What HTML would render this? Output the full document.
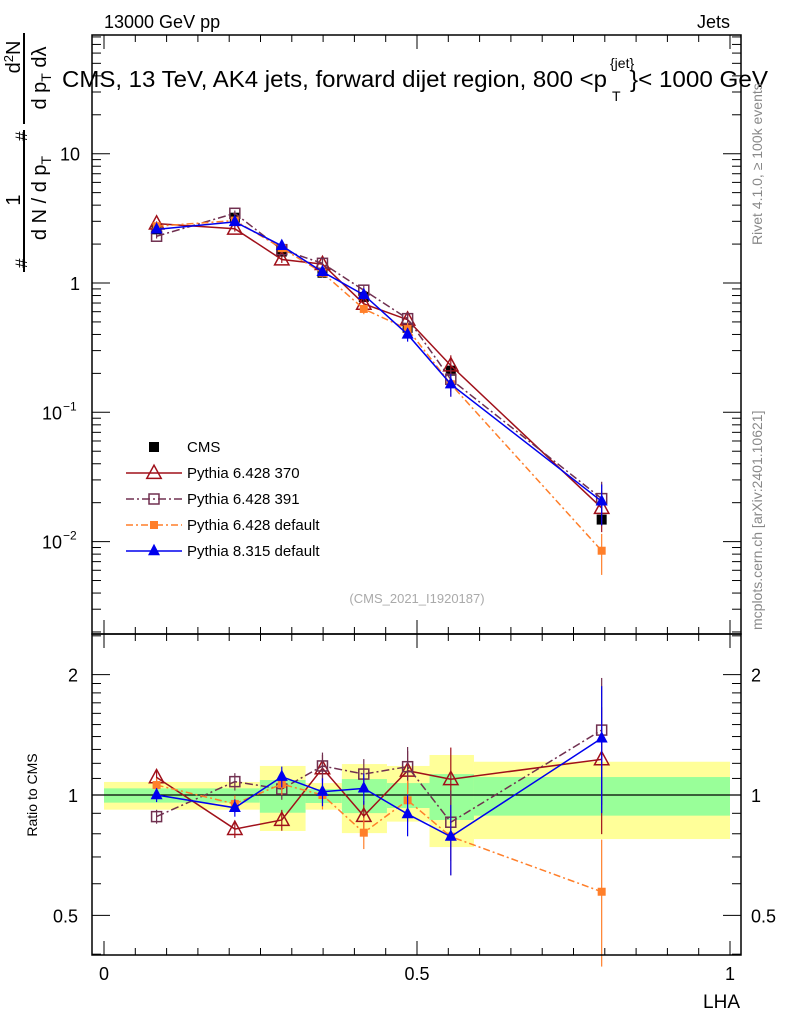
<!DOCTYPE html>
<html><head><meta charset="utf-8"><style>
body{margin:0;background:#fff;}
svg{display:block;font-family:"Liberation Sans",sans-serif;}
</style></head><body>
<svg id="c" width="786" height="1024" viewBox="0 0 786 1024" xmlns="http://www.w3.org/2000/svg">
<text x="104" y="28" font-size="18">13000 GeV pp</text>
<text x="730" y="28" font-size="18" text-anchor="end">Jets</text>
<g>
<text x="62" y="87" font-size="23.5" textLength="545" lengthAdjust="spacingAndGlyphs">CMS, 13 TeV, AK4 jets, forward dijet region, 800 &lt;p</text>
<text x="612" y="101" font-size="14">T</text>
<text x="610" y="68" font-size="14">{jet}</text>
<text x="630" y="87" font-size="23.5" textLength="138" lengthAdjust="spacingAndGlyphs">}&lt; 1000 GeV</text>
</g>
<g font-size="20">
<text transform="translate(20,200) rotate(-90)" text-anchor="middle">1</text>
<line x1="24" y1="130" x2="24" y2="272" stroke="#000" stroke-width="2"/>
<text transform="translate(46,198) rotate(-90)" text-anchor="middle">d N / d p<tspan font-size="14" dy="5">T</tspan></text>
<text transform="translate(27,268) rotate(-90)" font-size="17">#</text>
<text transform="translate(27,141) rotate(-90)" font-size="17">#</text>
<text transform="translate(20,57) rotate(-90)" text-anchor="middle">d<tspan font-size="13" dy="-7">2</tspan><tspan dy="7">N</tspan></text>
<line x1="24" y1="33" x2="24" y2="124" stroke="#000" stroke-width="2"/>
<text transform="translate(46,78) rotate(-90)" text-anchor="middle">d p<tspan font-size="14" dy="5">T</tspan><tspan dy="-5"> dλ</tspan></text>
</g>
<text transform="translate(762,245) rotate(-90)" font-size="14" fill="#888">Rivet 4.1.0, ≥ 100k events</text>
<text transform="translate(762,630) rotate(-90)" font-size="14" fill="#888">mcplots.cern.ch [arXiv:2401.10621]</text>
<text x="417" y="603" font-size="13" fill="#aaa" text-anchor="middle">(CMS_2021_I1920187)</text>
<text transform="translate(37,795) rotate(-90)" font-size="14" text-anchor="middle">Ratio to CMS</text>
<text x="740" y="1008" font-size="19" text-anchor="end">LHA</text>
<g id="bands"></g><g id="grid"></g><g id="series"></g><g id="axes"></g><g id="legend"></g>
</svg>
<script>
const xCenters=[0.084,0.209,0.284,0.349,0.415,0.485,0.554,0.795];
const binEdges=[0,0.249,0.322,0.38,0.452,0.52,0.591,1.0];
const cmsVals=[2.6,3.2,1.75,1.2,0.78,0.45,0.21,0.0148];
const p370=[2.88,2.63,1.52,1.40,0.69,0.52,0.23,0.0182];
const p391=[2.30,3.46,1.81,1.42,0.88,0.53,0.18,0.0215];
const pdef=[2.75,3.04,1.86,1.2,0.63,0.44,0.165,0.0085];
const p8=[2.6,2.97,1.94,1.22,0.81,0.40,0.165,0.0205];
const r370=[1.107,0.822,0.866,1.166,0.886,1.15,1.095,1.228];
const r391=[0.883,1.08,1.035,1.182,1.128,1.177,0.855,1.453];
const rdef=[1.059,0.95,1.065,1.0,0.805,0.97,0.787,0.573];
const r8=[1.0,0.929,1.111,1.019,1.039,0.896,0.787,1.386];
const relErr=[0.04,0.05,0.06,0.08,0.09,0.12,0.2,0.35];
const yelLo=[0.919,0.813,0.919,0.803,0.858,0.741,0.776];
const yelHi=[1.078,1.182,1.071,1.195,1.182,1.259,1.211];
const grnLo=[0.957,0.903,0.955,0.901,0.928,0.866,0.888];
const grnHi=[1.039,1.09,1.035,1.096,1.071,1.128,1.109];
const NS="http://www.w3.org/2000/svg";
const X=v=>104+v*626;
const Ym=v=>283-129.3*Math.log10(v);
const Yr=v=>795-400*Math.log10(v);
function mk(tag,at,par){const e=document.createElementNS(NS,tag);for(const k in at)e.setAttribute(k,at[k]);document.getElementById(par).appendChild(e);return e;}
for(let i=0;i<yelLo.length;i++){
 let r=mk('rect',{x:X(binEdges[i]),y:Yr(yelHi[i]),width:X(binEdges[i+1])-X(binEdges[i]),height:Yr(yelLo[i])-Yr(yelHi[i]),fill:'#ffff99'},'bands');
 
 
 let g=mk('rect',{x:X(binEdges[i]),y:Yr(grnHi[i]),width:X(binEdges[i+1])-X(binEdges[i]),height:Yr(grnLo[i])-Yr(grnHi[i]),fill:'#99ff99'},'bands');
 
 
}
let ul=mk('line',{x1:92,x2:741,y1:Yr(1),y2:Yr(1),stroke:'#000','stroke-width':1.2},'grid');


const L=92,R=741,T=35,M=634,B=955;
let f1=mk('rect',{x:L,y:T,width:R-L,height:M-T,fill:'none',stroke:'#000','stroke-width':1.5},'axes');


let f2=mk('rect',{x:L,y:M,width:R-L,height:B-M,fill:'none',stroke:'#000','stroke-width':1.5},'axes');


function tk(x1,y1,x2,y2){let t=mk('line',{x1,y1,x2,y2,stroke:'#000','stroke-width':1},'axes');}
for(let k=0;k<=20;k++){const v=k*0.05;const x=X(v);const len=(k%10==0)?14:7;
 tk(x,T,x,T+len);tk(x,M,x,M-len);tk(x,M,x,M+len);tk(x,B,x,B-len);}
[["0",0],["0.5",0.5],["1",1]].forEach(([s,v])=>{let t=mk('text',{x:X(v),y:980,'font-size':18,'text-anchor':'middle'},'axes');t.textContent=s;});
for(let d=-3;d<=1;d++){for(let m=1;m<10;m++){const v=m*Math.pow(10,d);const y=Ym(v);if(y<T||y>M)continue;const len=m==1?18:9;tk(L,y,L+len,y);tk(R,y,R-len,y);}}
[["10",10],["1",1]].forEach(([s,v])=>{let t=mk('text',{x:80,y:Ym(v)+7,'font-size':18,'text-anchor':'end'},'axes');t.textContent=s;});
[[-1,0.1],[-2,0.01]].forEach(([e,v])=>{let t=mk('text',{x:62,y:Ym(v)+7,'font-size':18,'text-anchor':'end'},'axes');t.textContent='10';
 let s=mk('text',{x:63,y:Ym(v)-2,'font-size':12},'axes');s.textContent='−'+(-e);});
[0.4,0.5,0.6,0.7,0.8,0.9,1,2].forEach(v=>{const y=Yr(v);const big=(v==0.5||v==1||v==2);tk(L,y,L+(big?18:9),y);tk(R,y,R-(big?18:9),y);});
[1.1,1.2,1.3,1.4,1.5,1.6,1.7,1.8,1.9,2.5].forEach(v=>{const y=Yr(v);if(y<M)return;tk(L,y,L+9,y);tk(R,y,R-9,y);});
[["2",2],["1",1],["0.5",0.5]].forEach(([s,v])=>{let t=mk('text',{x:78,y:Yr(v)+7,'font-size':18,'text-anchor':'end'},'axes');t.textContent=s;
 let t2=mk('text',{x:751,y:Yr(v)+7,'font-size':18},'axes');t2.textContent=s;});
function marker(kind,x,y,col,par,sz){let e;
 if(kind=='sq'){e=mk('rect',{x:x-sz,y:y-sz,width:2*sz,height:2*sz,fill:col},par);}
 else if(kind=='osq'){e=mk('rect',{x:x-sz,y:y-sz,width:2*sz,height:2*sz,fill:'none',stroke:col,'stroke-width':1.5},par);}
 else if(kind=='otri'){e=mk('polygon',{points:`${x},${y-sz*1.3} ${x-sz*1.2},${y+sz*0.9} ${x+sz*1.2},${y+sz*0.9}`,fill:'none',stroke:col,'stroke-width':1.5},par);}
 else {e=mk('polygon',{points:`${x},${y-sz*1.2} ${x-sz},${y+sz*0.7} ${x+sz},${y+sz*0.7}`,fill:col},par);}
 return e;}
const series=[
 {name:'pythia-6428-370',vals:p370,rat:r370,col:'#a0101a',dash:'',mk:'otri',sz:6,lab:'Pythia 6.428 370'},
 {name:'pythia-6428-391',vals:p391,rat:r391,col:'#703050',dash:'8,3,2,3',mk:'osq',sz:5,lab:'Pythia 6.428 391'},
 {name:'pythia-6428-default',vals:pdef,rat:rdef,col:'#ff7f2a',dash:'7,3,2,3',mk:'sq',sz:4,lab:'Pythia 6.428 default'},
 {name:'pythia-8315-default',vals:p8,rat:r8,col:'#0000ee',dash:'',mk:'tri',sz:6,lab:'Pythia 8.315 default'}];
cmsVals.forEach((v,i)=>{let m=marker('sq',X(xCenters[i]),Ym(v),'#000','series',5);});
series.forEach(s=>{
 let pl=mk('polyline',{points:s.vals.map((v,i)=>X(xCenters[i])+','+Ym(v)).join(' '),fill:'none',stroke:s.col,'stroke-width':1.5,'stroke-dasharray':s.dash},'series');
 
 
 let pr=mk('polyline',{points:s.rat.map((v,i)=>X(xCenters[i])+','+Yr(v)).join(' '),fill:'none',stroke:s.col,'stroke-width':1.5,'stroke-dasharray':s.dash},'series');
 
 
 s.vals.forEach((v,i)=>{const x=X(xCenters[i]);const e=relErr[i];
  let eb=mk('line',{x1:x,x2:x,y1:Ym(v*(1+e)),y2:Ym(v*(1-e)),stroke:s.col,'stroke-width':1.2},'series');
  
  
  let m=marker(s.mk,x,Ym(v),s.col,'series',s.sz);
  
  
 });
 s.rat.forEach((v,i)=>{const x=X(xCenters[i]);const e=relErr[i];
  let eb=mk('line',{x1:x,x2:x,y1:Yr(v*(1+e)),y2:Yr(Math.max(0.35,v*(1-e))),stroke:s.col,'stroke-width':1.2},'series');
  
  
  let m=marker(s.mk,x,Yr(v),s.col,'series',s.sz);
  
  
 });
});
const ly=[447,473,499,525,551];
let lc=marker('sq',154,ly[0],'#000','legend',5);


let lt=mk('text',{x:187,y:ly[0]+5,'font-size':15},'legend');lt.textContent='CMS';


series.forEach((s,k)=>{const y=ly[k+1];
 let l=mk('line',{x1:126,x2:182,y1:y,y2:y,stroke:s.col,'stroke-width':1.5,'stroke-dasharray':s.dash},'legend');
 
 
 let m=marker(s.mk,154,y,s.col,'legend',s.sz);
 
 
 let t=mk('text',{x:187,y:y+5,'font-size':15},'legend');t.textContent=s.lab;
 
 
});
</script>
</body></html>
